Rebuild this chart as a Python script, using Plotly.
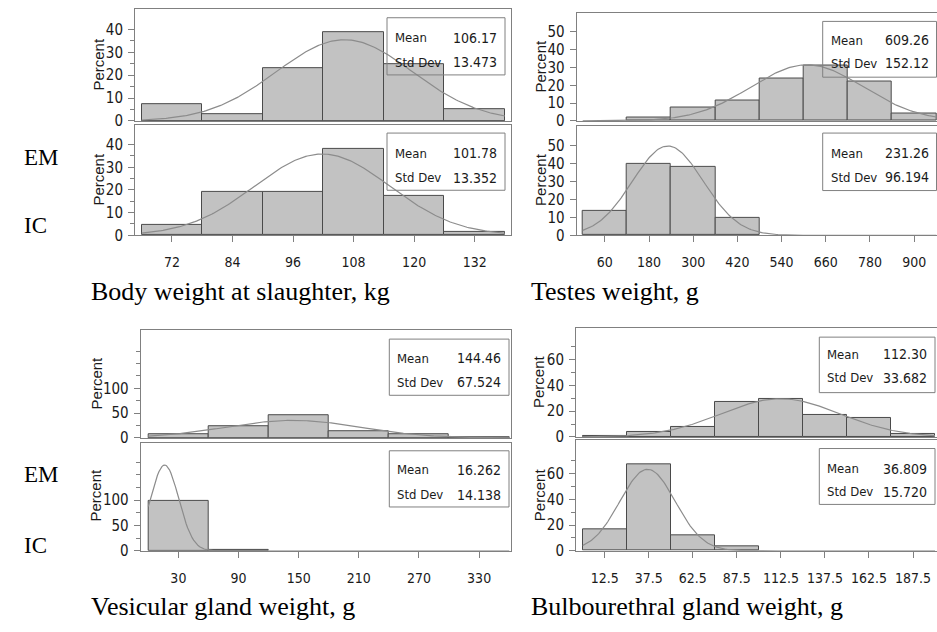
import math
import plotly.graph_objects as go

W, H = 937, 632

# ---------------- data ----------------
bw_centers = [72, 84, 96, 108, 120, 132]
bw_width = 12
bw_em = [7.2, 2.8, 23.0, 39.0, 25.0, 5.0]
bw_ic = [4.8, 19.1, 19.1, 38.3, 17.6, 1.5]
bw_em_stats = [106.17, 13.473]
bw_ic_stats = [101.78, 13.352]
bw_em_text = ["106.17", "13.473"]
bw_ic_text = ["101.78", "13.352"]

tw_centers = [60, 180, 300, 420, 540, 660, 780, 900]
tw_width = 120
tw_em = [0, 2.0, 7.4, 11.2, 24.0, 31.0, 22.0, 3.9]
tw_ic = [13.7, 39.6, 38.3, 9.6, 0, 0, 0, 0]
tw_em_stats = [609.26, 152.12]
tw_ic_stats = [231.26, 96.194]
tw_em_text = ["609.26", "152.12"]
tw_ic_text = ["231.26", "96.194"]

vg_centers = [30, 90, 150, 210, 270, 330]
vg_width = 60
vg_em = [6.6, 23.8, 46.0, 12.6, 6.6, 2.0]
vg_ic = [99.0, 1.0, 0, 0, 0, 0]
vg_em_stats = [144.46, 67.524]
vg_ic_stats = [16.262, 14.138]
vg_em_text = ["144.46", "67.524"]
vg_ic_text = ["16.262", "14.138"]

bg_centers = [12.5, 37.5, 62.5, 87.5, 112.5, 137.5, 162.5, 187.5]
bg_width = 25
bg_em = [0.5, 4.1, 7.4, 27.5, 29.3, 17.0, 14.8, 2.0]
bg_ic = [16.9, 67.4, 12.0, 3.6, 0, 0, 0, 0]
bg_em_stats = [112.30, 33.682]
bg_ic_stats = [36.809, 15.720]
bg_em_text = ["112.30", "33.682"]
bg_ic_text = ["36.809", "15.720"]

tick_labels_bw = ["72", "84", "96", "108", "120", "132"]
tick_labels_tw = ["60", "180", "300", "420", "540", "660", "780", "900"]
tick_labels_vg = ["30", "90", "150", "210", "270", "330"]
tick_labels_bg = ["12.5", "37.5", "62.5", "87.5", "112.5", "137.5", "162.5", "187.5"]

panel_titles = ["Body weight at slaughter, kg", "Testes weight, g",
                "Vesicular gland weight, g", "Bulbourethral gland weight, g"]
group_labels = ["EM", "IC"]

# ---------------- styling / layout ----------------
NARROW = "Liberation Sans Narrow, Arial Narrow, DejaVu Sans Condensed, sans-serif"
SANS = "Liberation Sans, Arial, sans-serif"
SERIF = "Liberation Serif, Times New Roman, serif"
FRAME = "#808080"
BAR_FILL = "#c2c2c2"
BAR_LINE = "#4a4a4a"
CURVE = "#8c8c8c"
TXT = "#1a1a1a"

def xd(l, r):
    return [l / W, min(r / W, 1.0)]

def yd(top, bottom):
    return [1 - bottom / H, 1 - top / H]

def px(x):
    return x / W

def py(y):
    return 1 - y / H

panels = [
    dict(centers=bw_centers, width=bw_width, em=bw_em, ic=bw_ic,
         stats=[bw_em_stats, bw_ic_stats], stext=[bw_em_text, bw_ic_text],
         ticks=tick_labels_bw,
         xdom=(135, 511), xrange=[64.67, 139.2], right_frame=True,
         ytop=(9.3, 122.7), ylow=(126.7, 238.7), yr=[[0, 48.9], [0, 48.7]],
         ymaj=[0, 10, 20, 30, 40], ymin=[5, 15, 25, 35],
         boxes=[(387, 505, 18, 76, 38.3, 63.3), (387, 505, 135, 193, 155.5, 180.5)],
         pct=[(98.5, 65), (98.5, 181.7)]),
    dict(centers=tw_centers, width=tw_width, em=tw_em, ic=tw_ic,
         stats=[tw_em_stats, tw_ic_stats], stext=[tw_em_text, tw_ic_text],
         ticks=tick_labels_tw,
         xdom=(576.7, 937), xrange=[-16.3, 962], right_frame=False,
         ytop=(12.7, 122.7), ylow=(127.7, 238.7), yr=[[0, 60.8], [0, 61]],
         ymaj=[0, 10, 20, 30, 40, 50], ymin=[],
         boxes=[(822.7, 940, 21.7, 78.3, 40.7, 64.3), (822.7, 940, 135, 193.3, 155.7, 180)],
         pct=[(541, 67.5), (541, 182.5)]),
    dict(centers=vg_centers, width=vg_width, em=vg_em, ic=vg_ic,
         stats=[vg_em_stats, vg_ic_stats], stext=[vg_em_text, vg_ic_text],
         ticks=tick_labels_vg,
         xdom=(140.7, 511), xrange=[-7.6, 361.8], right_frame=True,
         ytop=(335, 444.3), ylow=(449.3, 558.7), yr=[[0, 217], [0, 213]],
         ymaj=[0, 50, 100], ymin=[25, 75, 125, 150, 175],
         boxes=[(389.3, 509, 344, 401, 363.3, 387.7), (389.3, 509, 457.3, 514.3, 476.7, 501.7)],
         pct=[(96, 389), (96, 502.7)]),
    dict(centers=bg_centers, width=bg_width, em=bg_em, ic=bg_ic,
         stats=[bg_em_stats, bg_ic_stats], stext=[bg_em_text, bg_ic_text],
         ticks=tick_labels_bg,
         xdom=(576, 937), xrange=[-3.8, 201.1], right_frame=False,
         ytop=(332.7, 443.3), ylow=(446.7, 558.7), yr=[[0, 84.4], [0, 86]],
         ymaj=[0, 20, 40, 60], ymin=[10, 30, 50, 70],
         boxes=[(819.3, 935, 342, 398.3, 359.3, 383.3), (819.3, 935, 455, 511.7, 475.7, 499)],
         pct=[(539, 387.5), (539, 502.3)]),
]

fig = go.Figure()
layout = dict(
    width=W, height=H, margin=dict(l=0, r=0, t=0, b=0),
    paper_bgcolor="white", plot_bgcolor="white", showlegend=False,
    bargap=0,
)
shapes = []
annotations = []

ax = 0
for p in panels:
    left, right = p["xdom"]
    lo, hi = p["centers"][0] - p["width"] / 2, p["centers"][-1] + p["width"] / 2
    for gi, (vals, ydom, yr, st) in enumerate(
            [(p["em"], p["ytop"], p["yr"][0], p["stats"][0]),
             (p["ic"], p["ylow"], p["yr"][1], p["stats"][1])]):
        ax += 1
        xa = "x" if ax == 1 else f"x{ax}"
        ya = "y" if ax == 1 else f"y{ax}"
        bx = [c for c, v in zip(p["centers"], vals) if v > 0]
        by = [v for v in vals if v > 0]
        fig.add_trace(go.Bar(x=bx, y=by, width=p["width"], xaxis=xa, yaxis=ya,
                             marker=dict(color=BAR_FILL, line=dict(color=BAR_LINE, width=1))))
        # fitted normal curve from the stated mean / std dev
        mu, sd = st
        n = 240
        cx = [lo + (hi - lo) * i / (n - 1) for i in range(n)]
        cy = [100 * p["width"] * math.exp(-0.5 * ((x - mu) / sd) ** 2) / (sd * math.sqrt(2 * math.pi))
              for x in cx]
        fig.add_trace(go.Scatter(x=cx, y=cy, mode="lines", xaxis=xa, yaxis=ya,
                                 line=dict(color=CURVE, width=1.2)))
        is_low = gi == 1
        xkey = "xaxis" if ax == 1 else f"xaxis{ax}"
        ykey = "yaxis" if ax == 1 else f"yaxis{ax}"
        layout[xkey] = dict(
            domain=xd(left, right), range=p["xrange"], anchor=ya,
            showgrid=False, zeroline=False, showline=True, mirror=True,
            linecolor=FRAME, linewidth=1,
            tickmode="array", tickvals=p["centers"], ticktext=p["ticks"],
            showticklabels=is_low, ticks="outside" if is_low else "",
            ticklen=6, tickcolor=FRAME, ticklabelstandoff=8,
            tickfont=dict(family=NARROW, size=14, color=TXT),
        )
        layout[ykey] = dict(
            domain=yd(*ydom), range=yr, anchor=xa,
            showgrid=False, zeroline=False, showline=True, mirror=p["right_frame"],
            linecolor=FRAME, linewidth=1,
            tickmode="array", tickvals=p["ymaj"], ticktext=[str(v) for v in p["ymaj"]],
            ticks="outside", ticklen=6, tickcolor=FRAME, ticklabelstandoff=2,
            tickfont=dict(family=NARROW, size=15, color=TXT),
            minor=dict(tickmode="array", tickvals=p["ymin"], ticks="outside",
                       ticklen=4, tickcolor=FRAME),
        )
        # Stats box
        bl, br, bt, bb, r1, r2 = p["boxes"][gi]
        shapes.append(dict(type="rect", xref="paper", yref="paper",
                           x0=px(bl), x1=px(min(br, 936.5)), y0=py(bb), y1=py(bt),
                           line=dict(color=FRAME, width=1), fillcolor="rgba(0,0,0,0)"))
        for row_y, lab, val in [(r1, "Mean", p["stext"][gi][0]), (r2, "Std Dev", p["stext"][gi][1])]:
            annotations.append(dict(xref="paper", yref="paper", x=px(bl + 6), y=py(row_y),
                                    text=lab, showarrow=False, xanchor="left", yanchor="middle",
                                    font=dict(family=NARROW, size=13, color=TXT)))
            annotations.append(dict(xref="paper", yref="paper", x=px(min(br, 937) - 6), y=py(row_y),
                                    text=val, showarrow=False, xanchor="right", yanchor="middle",
                                    font=dict(family=NARROW, size=14, color=TXT)))
        # Percent label
        pxx, pyy = p["pct"][gi]
        annotations.append(dict(xref="paper", yref="paper", x=px(pxx), y=py(pyy),
                                text="Percent", showarrow=False, textangle=-90,
                                xanchor="center", yanchor="middle",
                                font=dict(family=SANS, size=15, color=TXT)))

# Group labels
for (gx, gy), lab in [((22, 160), "EM"), ((22, 229), "IC"), ((22, 481), "EM"), ((22, 553), "IC")]:
    annotations.append(dict(xref="paper", yref="paper", x=px(gx), y=py(gy), text=lab,
                            showarrow=False, xanchor="left", yanchor="middle",
                            font=dict(family=SERIF, size=23, color="black")))

# Panel titles
for (tx, ty), t in zip([(89, 296), (529, 296), (89, 615), (529, 615)], panel_titles):
    annotations.append(dict(xref="paper", yref="paper", x=px(tx), y=py(ty), text=t,
                            showarrow=False, xanchor="left", yanchor="middle",
                            font=dict(family=SERIF, size=26, color="black")))

layout["shapes"] = shapes
layout["annotations"] = annotations
fig.update_layout(**layout)
fig.write_html(
    "out.html",
    config={"displayModeBar": False},
    post_script="document.body.style.margin='0px';"
                "document.documentElement.style.overflow='hidden';"
                "document.body.style.overflow='hidden';",
)
